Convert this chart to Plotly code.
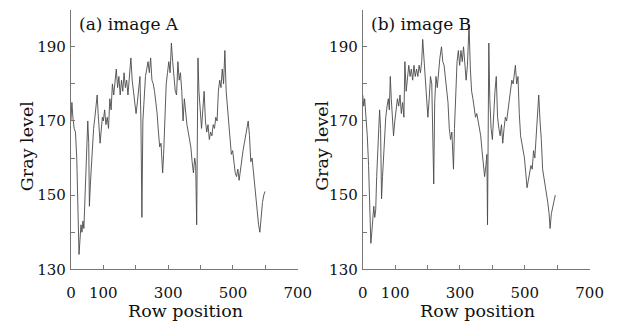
import plotly.graph_objects as go

# Panel (a) image A: row position vs gray level
row_a = [0, 3, 6, 10, 14, 18, 22, 25, 28, 31, 34, 37, 40, 43, 46, 49, 52, 55, 57, 60,
         63, 66, 70, 74, 78, 81, 84, 87, 90, 93, 97, 100, 104, 108, 112, 116, 120, 124,
         128, 132, 136, 140, 144, 148, 152, 156, 160, 164, 168, 172, 176, 180, 185, 189,
         193, 197, 201, 205, 209, 213, 216, 219, 222, 226, 230, 234, 238, 242, 246, 250,
         254, 258, 262, 266, 270, 274, 278, 283, 286, 290, 294, 298, 302, 306, 310, 314,
         318, 322, 326, 330, 334, 338, 342, 346, 350, 354, 358, 362, 366, 370, 374, 378,
         382, 385, 388, 392, 395, 399, 403, 407, 411, 415, 419, 423, 427, 431, 435, 439,
         443, 447, 451, 455, 459, 463, 467, 471, 475, 479, 483, 487, 491, 495, 499, 503,
         507, 511, 515, 519, 523, 527, 531, 535, 539, 543, 547, 551, 555, 559, 563, 567,
         571, 575, 579, 583, 587, 591, 595, 599]
gray_a = [170, 175, 171, 168, 167, 160, 145, 134, 138, 142, 140, 143, 141, 150, 158, 166, 170,
          164, 147, 153, 158, 163, 168, 171, 174, 177, 172, 168, 164, 167, 171, 170, 173,
          169, 171, 168, 176, 173, 180, 177, 181, 184, 179, 182, 177, 181, 178, 183, 179,
          181, 177, 182, 187, 181, 178, 176, 172, 175, 178, 182, 170, 144, 170, 176, 182,
          184, 186, 183, 187, 181, 180, 178, 175, 172, 167, 163, 164, 156, 161, 172, 180,
          183, 186, 183, 191, 186, 181, 178, 177, 186, 181, 183, 178, 170, 176, 172, 169,
          167, 165, 163, 159, 156, 160, 158, 142, 187, 178, 171, 168, 173, 178, 170, 167,
          169, 165, 167, 166, 169, 168, 171, 170, 178, 181, 179, 184, 180, 189, 178, 174,
          169, 165, 161, 162, 158, 156, 155, 157, 154, 157, 159, 162, 164, 166, 168, 170,
          166, 159, 160, 156, 152, 150, 146, 142, 140, 145, 148, 150, 151]

# Panel (b) image B
row_b = [0, 3, 6, 10, 14, 18, 22, 25, 28, 31, 34, 37, 40, 43, 46, 49, 52, 55, 58, 61,
         64, 67, 71, 75, 79, 82, 85, 88, 91, 95, 99, 103, 107, 111, 115, 119, 123, 127,
         130, 134, 138, 142, 146, 150, 154, 158, 162, 166, 170, 174, 178, 182, 185, 189,
         193, 197, 201, 205, 209, 213, 216, 219, 222, 226, 230, 234, 238, 243, 247, 251,
         255, 259, 263, 267, 271, 275, 280, 283, 287, 291, 295, 299, 303, 307, 311, 315,
         319, 323, 328, 332, 336, 340, 344, 348, 352, 356, 360, 364, 368, 372, 376, 380,
         383, 385, 389, 392, 396, 400, 404, 408, 412, 416, 420, 424, 428, 432, 436, 440,
         444, 448, 452, 456, 460, 464, 468, 471, 475, 479, 483, 487, 491, 495, 499, 503,
         507, 511, 515, 519, 523, 527, 531, 535, 539, 543, 547, 551, 555, 559, 563, 567,
         571, 575, 578, 582, 586, 590, 594, 598]
gray_b = [177, 174, 176, 171, 166, 158, 148, 137, 140, 143, 147, 144, 146, 155, 163, 170, 173,
          168, 149, 155, 160, 166, 171, 174, 176, 173, 182, 176, 171, 166, 170, 173, 176,
          174, 177, 172, 175, 171, 186, 178, 182, 185, 182, 184, 181, 185, 182, 184, 182,
          185, 183, 186, 192, 186, 180, 175, 171, 176, 182, 180, 170, 153, 175, 182, 179,
          184, 187, 190, 186, 185, 182, 179, 175, 168, 165, 167, 157, 168, 180, 186, 189,
          185, 189, 186, 190, 184, 181, 185, 196, 184, 178, 176, 173, 171, 172, 170, 169,
          166, 162, 158, 155, 158, 161, 142, 191, 176, 168, 165, 173, 178, 182, 171, 168,
          166, 169, 164, 168, 171, 170, 173, 175, 178, 181, 180, 184, 185, 180, 182, 172,
          166, 164, 162, 160, 156, 152, 154, 156, 158, 157, 162, 160, 166, 170, 177, 170,
          165, 157, 155, 153, 151, 148, 145, 141, 145, 147, 149, 150]

titles = ["(a) image A", "(b) image B"]
x_tickvals = [0, 100, 200, 300, 400, 500, 600, 700]
x_ticktext = ["0", "100", "", "300", "", "500", "", "700"]
y_tickvals = [130, 140, 150, 160, 170, 180, 190, 200]
y_ticktext = ["130", "", "150", "", "170", "", "190", ""]

W, H = 623, 324
FONT = "DejaVu Serif"
LINE = "#4a4a4a"

fig = go.Figure()
fig.add_trace(go.Scatter(x=row_a, y=gray_a, mode="lines",
                         line=dict(color=LINE, width=0.9), xaxis="x", yaxis="y"))
fig.add_trace(go.Scatter(x=row_b, y=gray_b, mode="lines",
                         line=dict(color=LINE, width=0.9), xaxis="x2", yaxis="y2"))

xdom = [(68 / W, 302 / W), (369 / W, 603 / W)]
ydom = (1 - 277 / H, 1 - 10 / H)
ylabel_x = [23, 327]

axis_common = dict(showgrid=False, zeroline=False, showline=True, linecolor="#777",
                   linewidth=1, ticks="inside", ticklen=4, tickcolor="#777",
                   tickfont=dict(family=FONT, size=15, color="#111"))

layout = dict(width=W, height=H, margin=dict(l=0, r=0, t=0, b=0),
              paper_bgcolor="white", plot_bgcolor="white", showlegend=False,
              font=dict(family=FONT, color="#111"))
for i, (xk, yk) in enumerate([("xaxis", "yaxis"), ("xaxis2", "yaxis2")]):
    anchor_y = "y" if i == 0 else "y2"
    anchor_x = "x" if i == 0 else "x2"
    layout[xk] = dict(axis_common, domain=list(xdom[i]), range=[0, 700], anchor=anchor_y,
                      tickmode="array", tickvals=x_tickvals, ticktext=x_ticktext,
                      ticklabelstandoff=10)
    layout[yk] = dict(axis_common, domain=list(ydom), range=[130, 200], anchor=anchor_x,
                      tickmode="array", tickvals=y_tickvals, ticktext=y_ticktext,
                      ticklabelstandoff=1)
fig.update_layout(**layout)

annotations = []
for i in range(2):
    x0 = xdom[i][0] * W
    annotations.append(dict(text=titles[i], x=(x0 + 6) / W, y=1 - 25 / H, xref="paper",
                            yref="paper", xanchor="left", yanchor="middle", showarrow=False,
                            font=dict(family=FONT, size=17, color="#111")))
    annotations.append(dict(text="Row position", x=(x0 + 118) / W, y=1 - 312 / H,
                            xref="paper", yref="paper", xanchor="center", yanchor="middle",
                            yshift=-8, borderpad=0, showarrow=False,
                            font=dict(family=FONT, size=17.5, color="#111")))
    annotations.append(dict(text="Gray level", x=ylabel_x[i] / W, y=1 - 150 / H,
                            xref="paper", yref="paper", xanchor="center", yanchor="middle",
                            textangle=-90, showarrow=False,
                            font=dict(family=FONT, size=17.5, color="#111")))
fig.update_layout(annotations=annotations)

fig.write_html("out.html")
